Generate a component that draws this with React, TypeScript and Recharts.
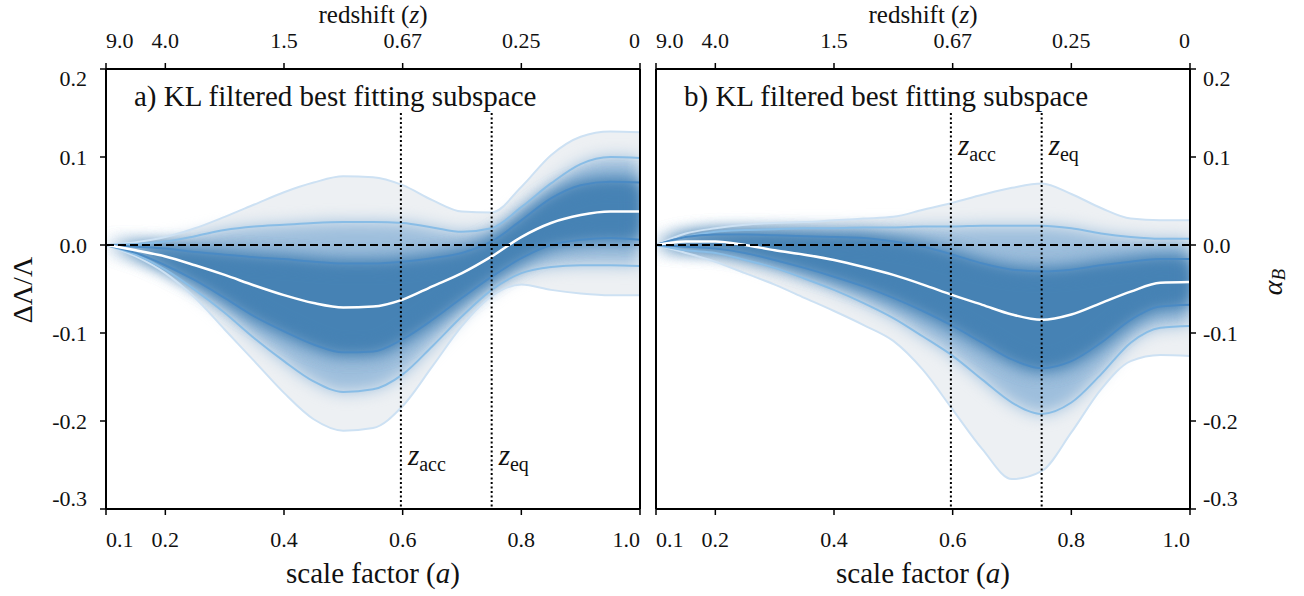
import React from "react";
import {
  ComposedChart,
  Area,
  Line,
  XAxis,
  YAxis,
  ReferenceLine,
  ReferenceDot,
} from "recharts";

const SERIF = "'Liberation Serif', 'DejaVu Serif', serif";

// scale factor samples (x)
const scaleFactor = [
  0.1, 0.15, 0.2, 0.25, 0.3, 0.35, 0.4, 0.45, 0.5, 0.55, 0.6, 0.65, 0.7, 0.75,
  0.8, 0.85, 0.9, 0.95, 1.0,
];

const aTicks = [0.1, 0.2, 0.4, 0.6, 0.8, 1.0];
const aTickLabels = ["0.1", "0.2", "0.4", "0.6", "0.8", "1.0"];
const redshiftLabels = ["9.0", "4.0", "1.5", "0.67", "0.25", "0"];
const yTicks = [-0.3, -0.2, -0.1, 0, 0.1, 0.2];

const aAcc = 0.597;
const aEq = 0.75;
const markerTop = 0.15;

// panel a) ΔΛ/Λ percentile curves
const lamUp3 = [0, 0.003, 0.009, 0.019, 0.032, 0.046, 0.06, 0.071, 0.078, 0.077, 0.068, 0.051, 0.038, 0.037, 0.066, 0.102, 0.123, 0.129, 0.128];
const lamUp2 = [0, 0.001, 0.004, 0.01, 0.017, 0.021, 0.023, 0.025, 0.026, 0.026, 0.025, 0.02, 0.015, 0.019, 0.043, 0.07, 0.092, 0.1, 0.099];
const lamUp1 = [0, -0.002, -0.004, -0.008, -0.011, -0.014, -0.016, -0.019, -0.021, -0.021, -0.019, -0.015, -0.009, 0.004, 0.028, 0.053, 0.068, 0.072, 0.071];
const lamMed = [0, -0.006, -0.013, -0.023, -0.034, -0.046, -0.057, -0.066, -0.071, -0.07, -0.062, -0.047, -0.032, -0.013, 0.009, 0.025, 0.034, 0.038, 0.038];
const lamLo1 = [0, -0.009, -0.023, -0.04, -0.06, -0.081, -0.098, -0.113, -0.122, -0.121, -0.107, -0.085, -0.06, -0.036, -0.015, 0.0, 0.006, 0.008, 0.006];
const lamLo2 = [0, -0.011, -0.028, -0.051, -0.077, -0.106, -0.132, -0.155, -0.167, -0.164, -0.147, -0.115, -0.081, -0.051, -0.032, -0.025, -0.023, -0.023, -0.024];
const lamLo3 = [0, -0.013, -0.032, -0.06, -0.096, -0.132, -0.168, -0.198, -0.211, -0.208, -0.183, -0.138, -0.092, -0.058, -0.045, -0.051, -0.055, -0.057, -0.057];

// panel b) alpha_B percentile curves
const abUp3 = [0, 0.013, 0.019, 0.023, 0.025, 0.026, 0.028, 0.03, 0.032, 0.04, 0.048, 0.057, 0.065, 0.07, 0.058, 0.042, 0.03, 0.028, 0.028];
const abUp2 = [0, 0.009, 0.015, 0.017, 0.018, 0.019, 0.019, 0.02, 0.02, 0.021, 0.021, 0.022, 0.022, 0.022, 0.019, 0.013, 0.009, 0.007, 0.007];
const abUp1 = [0, 0.009, 0.012, 0.012, 0.011, 0.01, 0.009, 0.008, 0.004, -0.002, -0.011, -0.021, -0.028, -0.03, -0.028, -0.023, -0.019, -0.016, -0.016];
const abMed = [0, 0.004, 0.004, 0.0, -0.006, -0.011, -0.017, -0.025, -0.034, -0.045, -0.057, -0.068, -0.079, -0.085, -0.079, -0.066, -0.053, -0.043, -0.042];
const abLo1 = [0, -0.002, -0.004, -0.009, -0.017, -0.026, -0.036, -0.047, -0.06, -0.075, -0.092, -0.111, -0.13, -0.14, -0.132, -0.111, -0.085, -0.07, -0.068];
const abLo2 = [0, -0.006, -0.009, -0.017, -0.026, -0.038, -0.051, -0.066, -0.083, -0.104, -0.126, -0.153, -0.179, -0.192, -0.179, -0.147, -0.111, -0.094, -0.092];
const abLo3 = [0, -0.009, -0.019, -0.032, -0.045, -0.06, -0.075, -0.091, -0.109, -0.142, -0.187, -0.232, -0.266, -0.257, -0.213, -0.164, -0.132, -0.125, -0.126];

const buildRows = (
  lo3: number[], lo2: number[], lo1: number[], med: number[],
  up1: number[], up2: number[], up3: number[]
) =>
  scaleFactor.map((a, i) => ({
    a,
    outer: [lo3[i], up3[i]],
    mid: [lo2[i], up2[i]],
    inner: [lo1[i], up1[i]],
    lo3: lo3[i], lo2: lo2[i], lo1: lo1[i], med: med[i],
    up1: up1[i], up2: up2[i], up3: up3[i],
  }));

const lambdaRows = buildRows(lamLo3, lamLo2, lamLo1, lamMed, lamUp1, lamUp2, lamUp3);
const alphaRows = buildRows(abLo3, abLo2, abLo1, abMed, abUp1, abUp2, abUp3);

const C_OUTER_FILL = "#edf0f3";
const C_MID_FILL = "#9dbedc";
const C_CORE = "#4682b4";
const C_LINE3 = "#cde1f3";
const C_LINE2 = "#89bde6";
const C_LINE1 = "#4a8ac4";

const BottomTick = (props: any) => {
  const { x, y, payload } = props;
  const i = aTicks.indexOf(payload.value);
  const anchor = i === 0 ? "start" : i === aTicks.length - 1 ? "end" : "middle";
  return (
    <text x={x} y={y + 32} textAnchor={anchor} fontFamily={SERIF} fontSize={22} fill="#111">
      {aTickLabels[i]}
    </text>
  );
};

const TopTick = (props: any) => {
  const { x, y, payload } = props;
  const i = aTicks.indexOf(payload.value);
  const anchor = i === 0 ? "start" : i === aTicks.length - 1 ? "end" : "middle";
  return (
    <text x={x} y={y - 15} textAnchor={anchor} fontFamily={SERIF} fontSize={22} fill="#111">
      {redshiftLabels[i]}
    </text>
  );
};

const YTick = (props: any) => {
  const { x, y, payload, side } = props;
  const v = payload.value;
  const dy = v === yTicks[yTicks.length - 1] ? 17 : v === yTicks[0] ? -3 : 7.5;
  const left = side === "left";
  return (
    <text
      x={left ? x - 13 : x + 7}
      y={y + dy}
      textAnchor={left ? "end" : "start"}
      fontFamily={SERIF}
      fontSize={22}
      fill="#111"
    >
      {v.toFixed(1)}
    </text>
  );
};

const MarkLabel = (props: any) => {
  const { viewBox, sub } = props;
  const x = viewBox.x + viewBox.width / 2 + 7;
  const y = viewBox.y + viewBox.height / 2;
  return (
    <text x={x} y={y} fontFamily={SERIF} fontSize={29} fill="#111">
      <tspan fontStyle="italic">z</tspan>
      <tspan fontSize={20} dy={6}>{sub}</tspan>
    </text>
  );
};

interface PanelProps {
  rows: any[];
  side: "left" | "right";
  title: string;
  labelY: number;
}

const Panel = ({ rows, side, title, labelY }: PanelProps) => {
  const isLeft = side === "left";
  const width = isLeft ? 652 : 754;
  const margin = isLeft
    ? { top: 29, right: 12, bottom: 47, left: 46 }
    : { top: 29, right: 54, bottom: 47, left: 106 };
  const axisStroke = { stroke: "#000", strokeWidth: 2 };
  const tickStroke = { stroke: "#000", strokeWidth: 1.5 };
  const common = { xAxisId: "b", yAxisId: "v", isAnimationActive: false } as const;

  return (
    <ComposedChart width={width} height={596} data={rows} margin={margin}>
      <XAxis
        xAxisId="b"
        dataKey="a"
        type="number"
        domain={[0.1, 1]}
        ticks={aTicks}
        interval={0}
        height={40}
        tickSize={6}
        tickMargin={0}
        axisLine={axisStroke}
        tickLine={tickStroke}
        tick={<BottomTick />}
      />
      <XAxis
        xAxisId="t"
        orientation="top"
        dataKey="a"
        type="number"
        domain={[0.1, 1]}
        ticks={aTicks}
        interval={0}
        height={40}
        tickSize={6}
        tickMargin={0}
        axisLine={axisStroke}
        tickLine={tickStroke}
        tick={<TopTick />}
      />
      <YAxis
        yAxisId="v"
        orientation={side}
        type="number"
        domain={[-0.3, 0.2]}
        ticks={yTicks}
        interval={0}
        width={60}
        tickSize={6}
        tickMargin={0}
        axisLine={axisStroke}
        tickLine={tickStroke}
        tick={<YTick side={side} />}
      />

      <Area {...common} type="monotone" dataKey="outer" fill={C_OUTER_FILL} fillOpacity={1} stroke="none" />
      <Area {...common} className="band-soft2" type="monotone" dataKey="mid" fill={C_MID_FILL} fillOpacity={1} stroke="none" />
      <Area {...common} className="band-soft1" type="monotone" dataKey="inner" fill={C_CORE} fillOpacity={1} stroke="none" />
      <Area {...common} className="band-soft1" type="monotone" dataKey="inner" fill={C_CORE} fillOpacity={1} stroke="none" />

      <Line {...common} type="monotone" dataKey="up3" stroke={C_LINE3} strokeWidth={2} dot={false} activeDot={false} />
      <Line {...common} type="monotone" dataKey="lo3" stroke={C_LINE3} strokeWidth={2} dot={false} activeDot={false} />
      <Line {...common} type="monotone" dataKey="up2" stroke={C_LINE2} strokeWidth={2} dot={false} activeDot={false} />
      <Line {...common} type="monotone" dataKey="lo2" stroke={C_LINE2} strokeWidth={2} dot={false} activeDot={false} />
      <Line {...common} type="monotone" dataKey="up1" stroke={C_LINE1} strokeWidth={2} dot={false} activeDot={false} />
      <Line {...common} type="monotone" dataKey="lo1" stroke={C_LINE1} strokeWidth={2} dot={false} activeDot={false} />
      <Line {...common} type="monotone" dataKey="med" stroke="#ffffff" strokeWidth={2.5} dot={false} activeDot={false} />

      <ReferenceLine xAxisId="b" yAxisId="v" y={0} stroke="#000" strokeWidth={2} strokeDasharray="8 4" />
      <ReferenceLine
        xAxisId="b"
        yAxisId="v"
        segment={[{ x: aAcc, y: markerTop }, { x: aAcc, y: -0.3 }]}
        stroke="#000"
        strokeWidth={2}
        strokeDasharray="2 2.5"
      />
      <ReferenceLine
        xAxisId="b"
        yAxisId="v"
        segment={[{ x: aEq, y: markerTop }, { x: aEq, y: -0.3 }]}
        stroke="#000"
        strokeWidth={2}
        strokeDasharray="2 2.5"
      />
      <ReferenceLine xAxisId="b" yAxisId="v" x={isLeft ? 1 : 0.1} stroke="#000" strokeWidth={2} />
      <ReferenceDot xAxisId="b" yAxisId="v" x={aAcc} y={labelY} r={0.01} fill="none" stroke="none" label={<MarkLabel sub="acc" />} />
      <ReferenceDot xAxisId="b" yAxisId="v" x={aEq} y={labelY} r={0.01} fill="none" stroke="none" label={<MarkLabel sub="eq" />} />

      <text x={134} y={106} fontFamily={SERIF} fontSize={29} fill="#111">{title}</text>
      <text x={373} y={23} textAnchor="middle" fontFamily={SERIF} fontSize={25} fill="#111">
        redshift (<tspan fontStyle="italic">z</tspan>)
      </text>
      <text x={373} y={583} textAnchor="middle" fontFamily={SERIF} fontSize={29} fill="#111">
        scale factor (<tspan fontStyle="italic">a</tspan>)
      </text>
      {isLeft ? (
        <text x={22} y={290} transform="rotate(-90 22 290)" textAnchor="middle" dominantBaseline="central" fontFamily={SERIF} fontSize={28} fill="#111">
          ΔΛ/Λ
        </text>
      ) : (
        <text x={722} y={282} transform="rotate(-90 722 282)" textAnchor="middle" dominantBaseline="central" fontFamily={SERIF} fontSize={28} fill="#111">
          <tspan fontStyle="italic">α</tspan>
          <tspan fontStyle="italic" fontSize={19} dy={6}>B</tspan>
        </text>
      )}
    </ComposedChart>
  );
};

const css = `
body { margin: 0; }
.band-soft2 .recharts-area-area { filter: url(#soft2); clip-path: url(#plotClip); }
.band-soft1 .recharts-area-area { filter: url(#soft1); clip-path: url(#plotClip); }
`;

export default function App() {
  return (
    <div style={{ position: "relative", width: 1304, height: 596, background: "#fff", overflow: "hidden" }}>
      <style>{css}</style>
      <svg width={0} height={0} style={{ position: "absolute" }}>
        <defs>
          <filter id="soft2" x="-20%" y="-40%" width="140%" height="180%" colorInterpolationFilters="sRGB">
            <feGaussianBlur stdDeviation={8} />
          </filter>
          <filter id="soft1" x="-20%" y="-40%" width="140%" height="180%" colorInterpolationFilters="sRGB">
            <feGaussianBlur stdDeviation={9} />
          </filter>
          <clipPath id="plotClip" clipPathUnits="userSpaceOnUse">
            <rect x={106} y={69} width={534} height={440} />
          </clipPath>
        </defs>
      </svg>
      <div style={{ position: "absolute", left: 0, top: 0 }}>
        <Panel rows={lambdaRows} side="left" title="a) KL filtered best fitting subspace" labelY={-0.25} />
      </div>
      <div style={{ position: "absolute", left: 550, top: 0 }}>
        <Panel rows={alphaRows} side="right" title="b) KL filtered best fitting subspace" labelY={0.102} />
      </div>
    </div>
  );
}
